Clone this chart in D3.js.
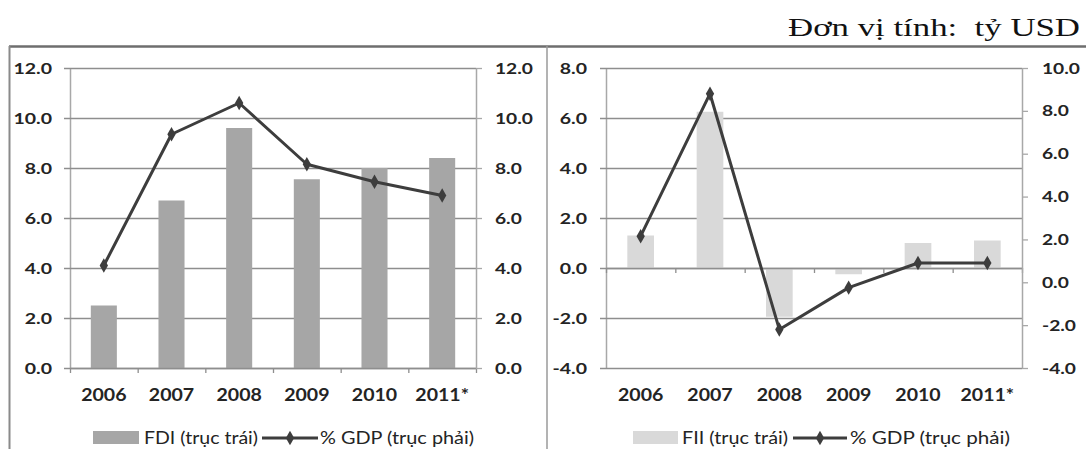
<!DOCTYPE html>
<html>
<head>
<meta charset="utf-8">
<script src="https://cdn.jsdelivr.net/npm/d3@7"></script>
<style>
  html, body { margin: 0; padding: 0; background: #fff; }
  svg { display: block; }
</style>
</head>
<body>
<svg id="chart" width="1086" height="449"></svg>
<script>
// ---- Data ----
const years = ["2006", "2007", "2008", "2009", "2010", "2011*"];
const fdi = [2.5, 6.7, 9.6, 7.55, 8.0, 8.4];
const fdiGdp = [4.1, 9.35, 10.6, 8.15, 7.45, 6.9];
const fii = [1.3, 6.25, -1.95, -0.25, 1.0, 1.1];
const fiiGdp = [2.15, 8.8, -2.2, -0.25, 0.9, 0.9];
const leftTicksA = [0, 2, 4, 6, 8, 10, 12];
const rightTicksA = [0, 2, 4, 6, 8, 10, 12];
const leftTicksB = [-4, -2, 0, 2, 4, 6, 8];
const rightTicksB = [-4, -2, 0, 2, 4, 6, 8, 10];
const titleText = "Đơn vị tính:\u00a0\u00a0tỷ USD";
const legendA = ["FDI (trục trái)", "% GDP (trục phải)"];
const legendB = ["FII (trục trái)", "% GDP (trục phải)"];

const svg = d3.select("#chart");
const FONT = "Lato, 'Open Sans', 'DejaVu Sans', sans-serif";
const TXT = "#242424";
const GRID = "#8e8e8e";
const AXIS = "#a8a8a8";
const LINE = "#3d3d3d";
const fmt = d => d.toFixed(1);

function stretch(sel, s) {
  sel.each(function () {
    const t = d3.select(this);
    const x = +t.attr("x") || 0;
    t.attr("x", x / s).attr("transform", `scale(${s},1)`);
  });
}

// ---- Frame ----
svg.append("rect").attr("x", 0).attr("y", 0).attr("width", 1086).attr("height", 449).attr("fill", "#fff");
svg.append("line").attr("x1", 9).attr("x2", 1086).attr("y1", 46.5).attr("y2", 46.5)
  .attr("stroke", "#6e6e6e").attr("stroke-width", 2.5);
svg.append("line").attr("x1", 9.5).attr("x2", 9.5).attr("y1", 46).attr("y2", 449)
  .attr("stroke", "#8a8a8a").attr("stroke-width", 2);
svg.append("line").attr("x1", 547).attr("x2", 547).attr("y1", 46).attr("y2", 449)
  .attr("stroke", "#9a9a9a").attr("stroke-width", 1.5);

svg.append("text").attr("x", 788).attr("y", 36)
  .attr("font-family", "'Liberation Serif', 'DejaVu Serif', serif").attr("font-size", 26)
  .attr("fill", "#111").attr("textLength", 292).attr("lengthAdjust", "spacingAndGlyphs")
  .text(titleText);

function panel(cfg) {
  const g = svg.append("g");
  const x = d3.scaleBand().domain(years).range([cfg.x0, cfg.x1]).paddingInner(0.615).paddingOuter(0.3075);
  const xi = d3.scaleLinear().domain([0, years.length]).range([cfg.x0, cfg.x1]);
  const yL = d3.scaleLinear().domain(cfg.yLDom).range([cfg.yb, cfg.yt]);
  const yR = d3.scaleLinear().domain(cfg.yRDom).range([cfg.yb, cfg.yt]);
  const W = cfg.x1 - cfg.x0;

  // gridlines + left axis
  const gl = g.append("g").attr("transform", `translate(${cfg.x0},0)`)
    .call(d3.axisLeft(yL).tickValues(cfg.lTicks).tickFormat(fmt).tickSizeInner(-W).tickSizeOuter(0).tickPadding(cfg.lPad));
  gl.select(".domain").attr("stroke", AXIS).attr("stroke-width", 1.5);
  gl.selectAll(".tick line").attr("x1", -6).attr("stroke", GRID).attr("stroke-width", 1.3);
  gl.selectAll(".tick text").attr("font-family", FONT).attr("font-size", 16).attr("font-weight", 700).attr("fill", TXT).call(stretch, 1.22);

  // bars
  g.append("g").selectAll("rect").data(cfg.bars).join("rect")
    .attr("x", (d, i) => x(years[i]))
    .attr("width", x.bandwidth())
    .attr("y", d => yL(Math.max(0, d)))
    .attr("height", d => Math.abs(yL(d) - yL(0)))
    .attr("fill", cfg.barColor);

  // x axis tick marks at zero line
  const gx = g.append("g").attr("transform", `translate(0,${yL(0)})`)
    .call(d3.axisBottom(xi).tickValues(d3.range(0, years.length + 1)).tickFormat("").tickSizeInner(5).tickSizeOuter(0));
  gx.select(".domain").attr("stroke", GRID).attr("stroke-width", 1.3);
  gx.selectAll(".tick line").attr("stroke", GRID).attr("stroke-width", 1.3);

  // category labels
  const gc = g.append("g").attr("transform", `translate(0,${cfg.yb})`)
    .call(d3.axisBottom(x).tickSize(0).tickPadding(21));
  gc.select(".domain").remove();
  gc.selectAll(".tick text").attr("font-family", FONT).attr("font-size", 17).attr("font-weight", 700).attr("fill", TXT).call(stretch, 1.15);

  // right axis
  const gr = g.append("g").attr("transform", `translate(${cfg.x1},0)`)
    .call(d3.axisRight(yR).tickValues(cfg.rTicks).tickFormat(fmt).tickSizeInner(6).tickSizeOuter(0).tickPadding(cfg.rPad));
  gr.select(".domain").attr("stroke", AXIS).attr("stroke-width", 1.5);
  gr.selectAll(".tick line").attr("stroke", AXIS).attr("stroke-width", 1.3);
  gr.selectAll(".tick text").attr("font-family", FONT).attr("font-size", 16).attr("font-weight", 700).attr("fill", TXT).call(stretch, 1.2);

  // line
  const cx = (i) => x(years[i]) + x.bandwidth() / 2;
  g.append("path").datum(cfg.line)
    .attr("d", d3.line().x((d, i) => cx(i)).y(d => yR(d)))
    .attr("fill", "none").attr("stroke", LINE).attr("stroke-width", 3).attr("stroke-linejoin", "round");
  g.append("g").selectAll("path").data(cfg.line).join("path")
    .attr("transform", (d, i) => `translate(${cx(i)},${yR(d)})`)
    .attr("d", d3.symbol(d3.symbolDiamond, 60))
    .attr("fill", LINE);

  // legend
  const lg = g.append("g");
  const L = cfg.legend;
  lg.append("rect").attr("x", L.sx).attr("y", 431).attr("width", L.sw).attr("height", 13).attr("fill", cfg.barColor);
  lg.append("text").attr("x", L.t1x).attr("y", 444).attr("font-family", FONT).attr("font-size", 17).attr("font-weight", 400)
    .attr("fill", TXT).attr("textLength", L.t1w).attr("lengthAdjust", "spacingAndGlyphs").text(cfg.legendText[0]);
  lg.append("line").attr("x1", L.lx0).attr("x2", L.lx1).attr("y1", 438).attr("y2", 438)
    .attr("stroke", LINE).attr("stroke-width", 3);
  lg.append("path").attr("transform", `translate(${(L.lx0 + L.lx1) / 2},438)`)
    .attr("d", d3.symbol(d3.symbolDiamond, 60)).attr("fill", LINE);
  lg.append("text").attr("x", L.t2x).attr("y", 444).attr("font-family", FONT).attr("font-size", 17).attr("font-weight", 400)
    .attr("fill", TXT).attr("textLength", L.t2w).attr("lengthAdjust", "spacingAndGlyphs").text(cfg.legendText[1]);
}

panel({
  x0: 70, x1: 476, yt: 68, yb: 368,
  yLDom: [0, 12], yRDom: [0, 12],
  lTicks: leftTicksA, rTicks: rightTicksA, lPad: 18, rPad: 13,
  bars: fdi, line: fdiGdp, barColor: "#a6a6a6",
  legendText: legendA,
  legend: { sx: 93, sw: 46, t1x: 144, t1w: 114, lx0: 262, lx1: 318, t2x: 320, t2w: 154 }
});

panel({
  x0: 606, x1: 1022, yt: 68, yb: 368,
  yLDom: [-4, 8], yRDom: [-4, 10],
  lTicks: leftTicksB, rTicks: rightTicksB, lPad: 19, rPad: 14,
  bars: fii, line: fiiGdp, barColor: "#d9d9d9",
  legendText: legendB,
  legend: { sx: 633, sw: 45, t1x: 682, t1w: 106, lx0: 793, lx1: 847, t2x: 850, t2w: 160 }
});
</script>
</body>
</html>
